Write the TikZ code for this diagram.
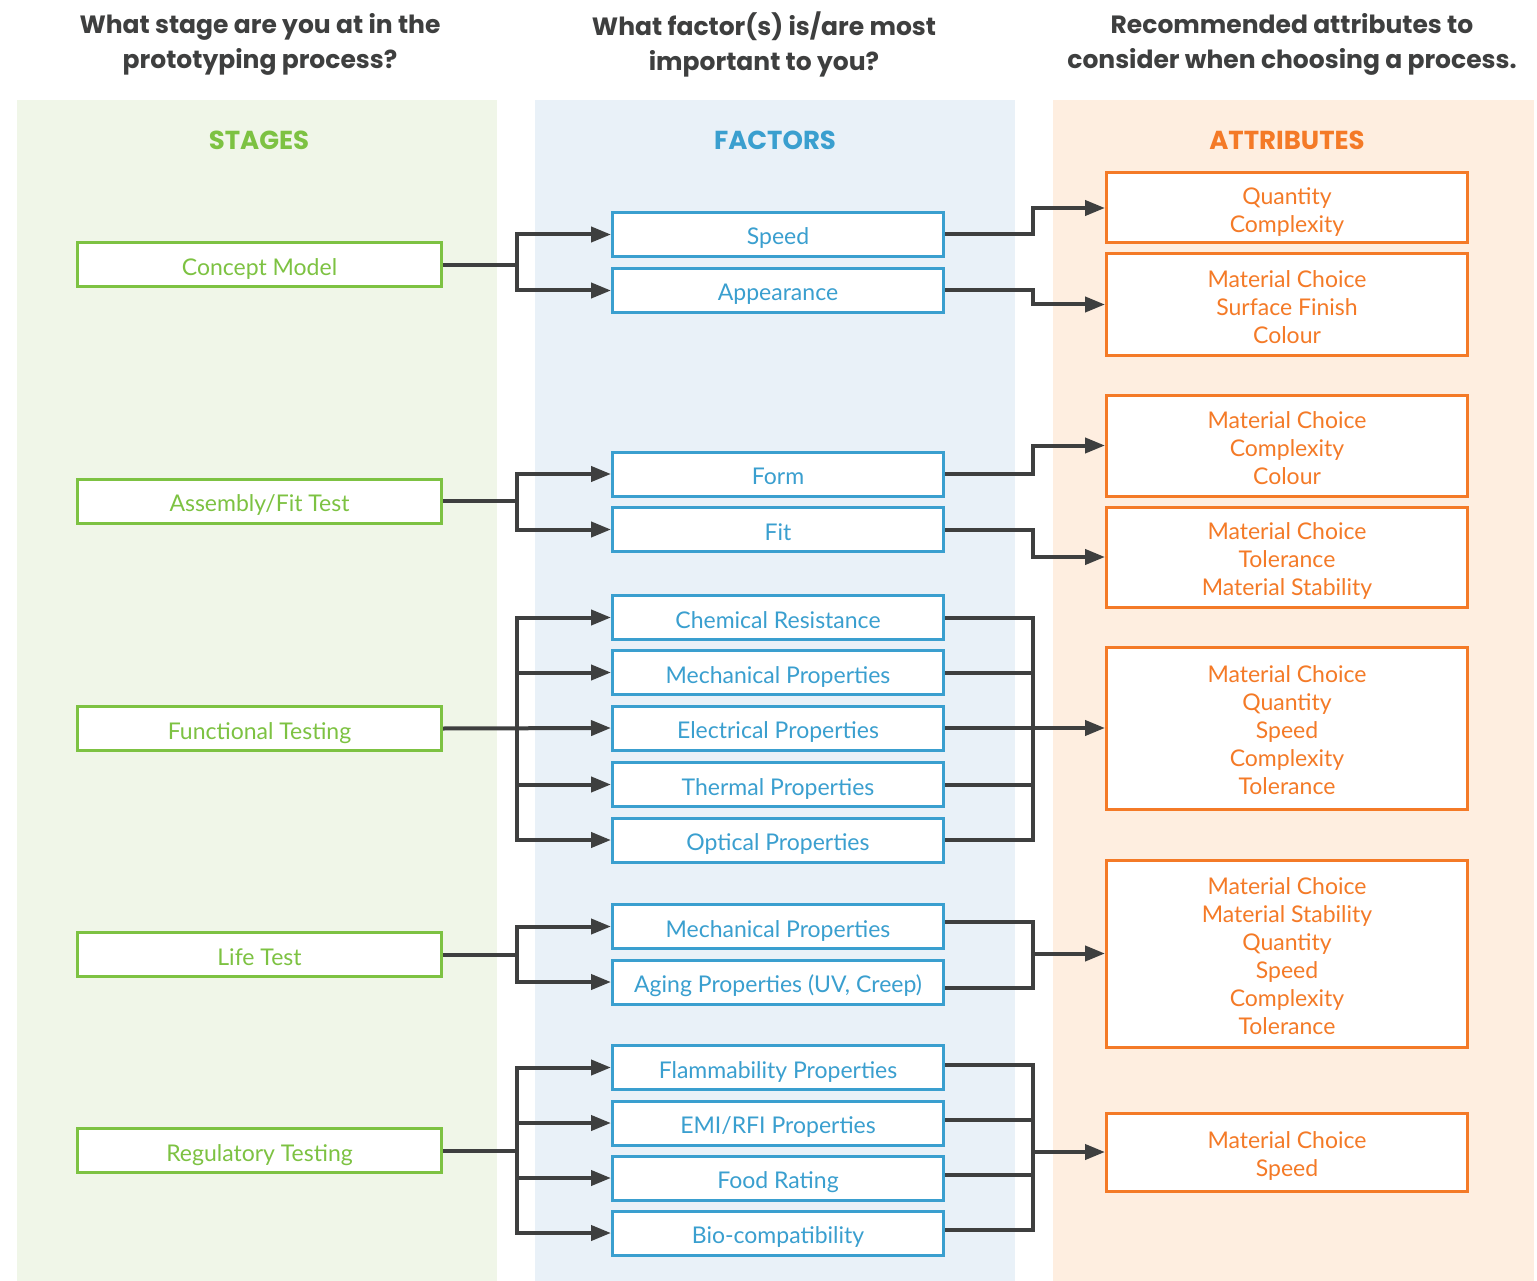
\documentclass[tikz,border=0pt]{standalone}
\usepackage{fontspec}
\setmainfont{Lato}
\newfontfamily\headfont{Poppins}
\usetikzlibrary{arrows.meta,calc}
\definecolor{dark}{HTML}{3E3F3F}
\definecolor{sgreen}{HTML}{7DC242}
\definecolor{sblue}{HTML}{3A9FCF}
\definecolor{sorange}{HTML}{F47A27}
\definecolor{bggreen}{HTML}{F0F6E8}
\definecolor{bgblue}{HTML}{E9F1F8}
\definecolor{bgorange}{HTML}{FEEEE0}
\newcommand\att[1]{\raisebox{-5pt}[\height][\depth]{\begin{tabular}{@{}c@{}}#1\end{tabular}}}
\begin{document}
\begin{tikzpicture}[x=1pt,y=-1pt,
  question/.style={text=dark,font=\headfont\fontsize{25}{35}\selectfont\bfseries,align=center},
  colhead/.style={font=\headfont\fontsize{26}{30}\selectfont\bfseries},
  boxtext/.style={font=\fontsize{23}{28}\selectfont,text height=21pt,text depth=0pt,inner sep=0pt},
  stagebox/.style={boxtext,draw=sgreen,line width=3pt,fill=white,text=sgreen,minimum width=364pt,minimum height=44pt},
  factorbox/.style={boxtext,draw=sblue,line width=3pt,fill=white,text=sblue,minimum width=331pt,minimum height=44pt},
  attrbox/.style={draw=sorange,line width=3pt,fill=white,text=sorange,minimum width=361pt,inner sep=0pt,font=\fontsize{23}{28}\selectfont},
  conn/.style={draw=dark,line width=4pt},
  arr/.style={conn,-{Triangle[length=20pt,width=15pt]}},
  bar/.style={conn,line cap=rect}
]
\useasboundingbox (0,0) rectangle (1537,1281);
\fill[white] (0,0) rectangle (1537,1281);
% panels
\fill[bggreen] (17,100) rectangle (497,1281);
\fill[bgblue] (535,100) rectangle (1015,1281);
\fill[bgorange] (1053,100) rectangle (1534,1281);

% questions
\node[question] (q1) at (260,44) {What stage are you at in the\\prototyping process?};
\node[question] (q2) at (764,44) {What factor(s) is/are most\\important to you?};
\node[question] (q3) at (1292,44) {Recommended attributes to\\consider when choosing a process.};

% column headings
\node[colhead,text=sgreen] (h1) at (259,140) {STAGES};
\node[colhead,text=sblue] (h2) at (775,140) {FACTORS};
\node[colhead,text=sorange] (h3) at (1287,140) {ATTRIBUTES};

% stages
\node[stagebox] (s1) at (259.5,265) {Concept Model};
\node[stagebox] (s2) at (259.5,501) {Assembly/Fit Test};
\node[stagebox] (s3) at (259.5,728.5) {Functional Testing};
\node[stagebox] (s4) at (259.5,954.5) {Life Test};
\node[stagebox] (s5) at (259.5,1150.5) {Regulatory Testing};

% factors
\node[factorbox] (f1) at (778,234.5) {Speed};
\node[factorbox] (f2) at (778,290.5) {Appearance};
\node[factorbox] (f3) at (778,474) {Form};
\node[factorbox] (f4) at (778,529.5) {Fit};
\node[factorbox] (f5) at (778,617.5) {Chemical Resistance};
\node[factorbox] (f6) at (778,672.5) {Mechanical Properties};
\node[factorbox] (f7) at (778,728) {Electrical Properties};
\node[factorbox] (f8) at (778,784.5) {Thermal Properties};
\node[factorbox] (f9) at (778,840) {Optical Properties};
\node[factorbox] (f10) at (778,926.5) {Mechanical Properties};
\node[factorbox] (f11) at (778,982) {Aging Properties (UV, Creep)};
\node[factorbox] (f12) at (778,1067.5) {Flammability Properties};
\node[factorbox] (f13) at (778,1123) {EMI/RFI Properties};
\node[factorbox] (f14) at (778,1178) {Food Rating};
\node[factorbox] (f15) at (778,1233) {Bio-compatibility};

% attributes
\node[attrbox,minimum height=70pt] (a1) at (1287,208) {\att{Quantity\\Complexity}};
\node[attrbox,minimum height=101pt] (a2) at (1287,304.5) {\att{Material Choice\\Surface Finish\\Colour}};
\node[attrbox,minimum height=101pt] (a3) at (1287,445.5) {\att{Material Choice\\Complexity\\Colour}};
\node[attrbox,minimum height=100pt] (a4) at (1287,557) {\att{Material Choice\\Tolerance\\Material Stability}};
\node[attrbox,minimum height=162pt] (a5) at (1287,728) {\att{Material Choice\\Quantity\\Speed\\Complexity\\Tolerance}};
\node[attrbox,minimum height=187pt] (a6) at (1287,953.5) {\att{Material Choice\\Material Stability\\Quantity\\Speed\\Complexity\\Tolerance}};
\node[attrbox,minimum height=78pt] (a7) at (1287,1152) {\att{Material Choice\\Speed}};

% junction columns
\coordinate (L) at (517,0);
\coordinate (R) at (1033,0);

% --- left connectors
% Concept Model
\draw[conn] (s1.east) -- (L |- s1.east);
\draw[bar] (L |- f1.west) -- (L |- f2.west);
\draw[arr] (L |- f1.west) -- (f1.west);
\draw[arr] (L |- f2.west) -- (f2.west);
% Assembly/Fit
\draw[conn] (s2.east) -- (L |- s2.east);
\draw[bar] (L |- f3.west) -- (L |- f4.west);
\draw[arr] (L |- f3.west) -- (f3.west);
\draw[arr] (L |- f4.west) -- (f4.west);
% Functional
\draw[bar] (L |- f5.west) -- (L |- f9.west);
\draw[arr] (s3.east) -- (f7.west);
\foreach \f in {f5,f6,f8,f9}{\draw[arr] (L |- \f.west) -- (\f.west);}
% Life
\draw[conn] (s4.east) -- (L |- s4.east);
\draw[bar] (L |- f10.west) -- (L |- f11.west);
\draw[arr] (L |- f10.west) -- (f10.west);
\draw[arr] (L |- f11.west) -- (f11.west);
% Regulatory
\draw[conn] (s5.east) -- (L |- s5.east);
\draw[bar] (L |- f12.west) -- (L |- f15.west);
\foreach \f in {f12,f13,f14,f15}{\draw[arr] (L |- \f.west) -- (\f.west);}

% --- right connectors
\draw[arr] (f1.east) -| (R |- a1.west) -- (a1.west);
\draw[arr] (f2.east) -| (R |- a2.west) -- (a2.west);
\draw[arr] (f3.east) -| (R |- a3.west) -- (a3.west);
\draw[arr] (f4.east) -| (R |- a4.west) -- (a4.west);
% Functional group
\foreach \f in {f5,f6,f8,f9}{\draw[conn] (\f.east) -- (R |- \f.east);}
\draw[bar] (R |- f5.east) -- (R |- f9.east);
\draw[arr] (f7.east) -- (a5.west);
% Life group
\coordinate (m1) at ($(f10.east)+(0,-5)$);
\coordinate (m2) at ($(f11.east)+(0,6)$);
\draw[conn] (m1) -- (R |- m1);
\draw[conn] (m2) -- (R |- m2);
\draw[bar] (R |- m1) -- (R |- m2);
\draw[arr] (R |- a6.west) -- (a6.west);
% Regulatory group
\foreach \f/\n in {f12/r1,f13/r2,f14/r3,f15/r4}{
  \coordinate (\n) at ($(\f.east)+(0,-3)$);
  \draw[conn] (\n) -- (R |- \n);}
\draw[bar] (R |- r1) -- (R |- r4);
\draw[arr] (R |- a7.west) -- (a7.west);
\end{tikzpicture}
\end{document}
